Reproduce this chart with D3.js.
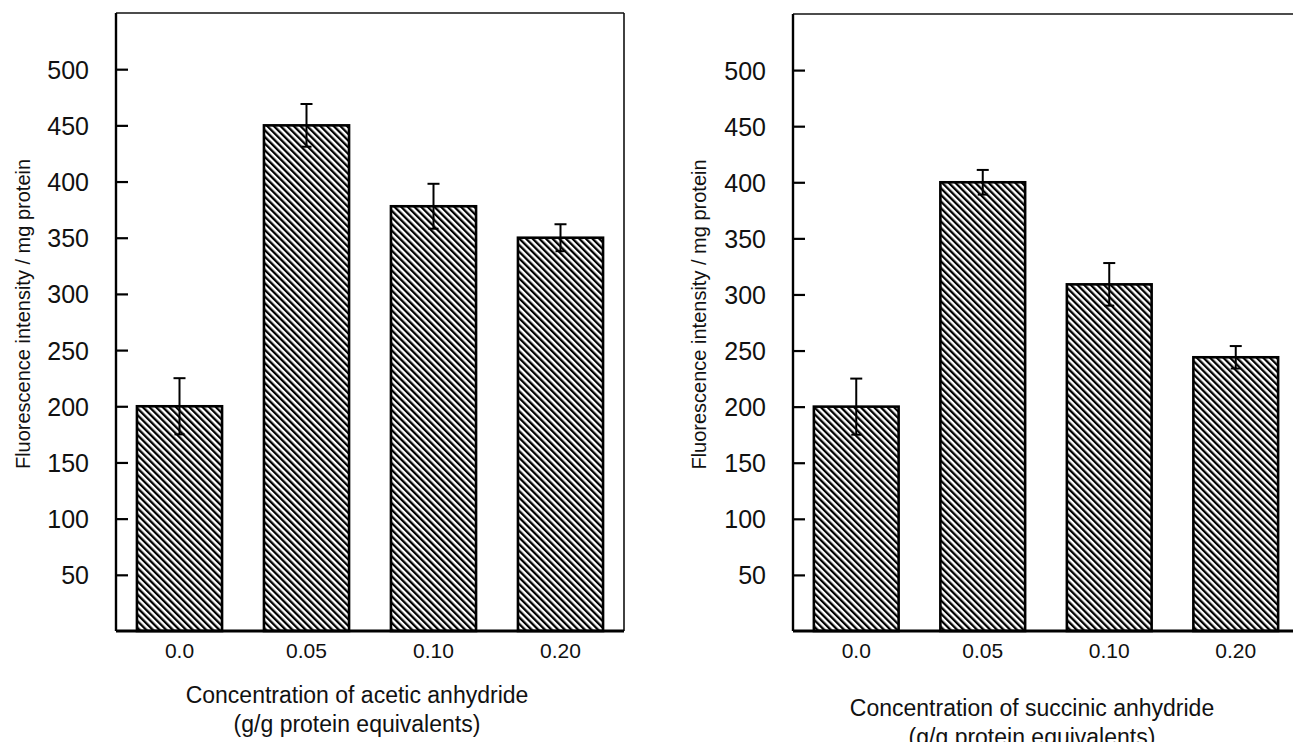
<!DOCTYPE html>
<html>
<head>
<meta charset="utf-8">
<script src="https://cdn.jsdelivr.net/npm/d3@7"></script>
<style>
    body { margin: 0; background: #ffffff; }
    svg text { font-family: "Liberation Sans", Arial, Helvetica, sans-serif; fill: #111111; }
</style>
</head>
<body>
<script>
// categories (x axis)
const categories = ['0.0', '0.05', '0.10', '0.20'];
// y axis ticks
const yTicks = [50, 100, 150, 200, 250, 300, 350, 400, 450, 500];

// acetic anhydride panel
const aceticMeans = [200, 450, 378, 350];
const aceticErrors = [25, 19, 20, 12];
// succinic anhydride panel
const succinicMeans = [200, 400, 309, 244];
const succinicErrors = [25, 11, 19, 10];

const yTitle = 'Fluorescence intensity / mg protein';
const xTitles = [
    ['Concentration of acetic anhydride', '(g/g protein equivalents)'],
    ['Concentration of succinic anhydride', '(g/g protein equivalents)']
];

/**
 * init svg and the hatch pattern
 */
const initSVGSettings = (renderParams) => {
    let {svgWidth, svgHeight} = renderParams;

    let svgContainer = d3.select('body')
        .append('svg')
        .attr('width', svgWidth)
        .attr('height', svgHeight);

    // diagonal hatch "\\\\"
    svgContainer.append('defs')
        .append('pattern')
        .attr('id', 'hatch')
        .attr('patternUnits', 'userSpaceOnUse')
        .attr('width', 4.7)
        .attr('height', 10)
        .attr('patternTransform', 'rotate(-45)')
        .append('rect')
        .attr('x', 0)
        .attr('y', 0)
        .attr('width', 2.3)
        .attr('height', 10)
        .style('fill', '#000000');

    return svgContainer;
};

/**
 * draw one panel
 * @param svg svg element
 * @param panel panel params (frame, data, titles)
 */
const renderPanel = (svg, panel) => {
    let {left, right, top, bottom, means, errors, titles, titleX, titleY, yLabelX} = panel;
    let data = categories.map((c, i) => ({cat: c, value: means[i], err: errors[i]}));

    let x = d3.scaleBand()
        .domain(categories)
        .range([left, right])
        .paddingInner(0.33)
        .paddingOuter(0.165);
    let y = d3.scaleLinear()
        .domain([0, 550])
        .range([bottom, top]);

    let g = svg.append('g');

    // frame: thin top / right
    g.append('line')
        .attr('x1', left).attr('x2', right)
        .attr('y1', top).attr('y2', top)
        .attr('stroke', '#111').attr('stroke-width', 1.6);
    g.append('line')
        .attr('x1', right).attr('x2', right)
        .attr('y1', top).attr('y2', bottom)
        .attr('stroke', '#111').attr('stroke-width', 1.6);

    // bars
    g.append('g')
        .selectAll('rect')
        .data(data)
        .enter()
        .append('rect')
        .attr('x', d => x(d.cat))
        .attr('y', d => y(d.value))
        .attr('width', x.bandwidth())
        .attr('height', d => y(0) - y(d.value))
        .style('fill', 'url(#hatch)')
        .attr('stroke', '#000')
        .attr('stroke-width', 2.6);

    // error bars
    let errG = g.append('g')
        .selectAll('g')
        .data(data)
        .enter()
        .append('g')
        .attr('transform', d => `translate(${x(d.cat) + x.bandwidth() / 2},0)`)
        .attr('stroke', '#000')
        .attr('stroke-width', 2);
    errG.append('line')
        .attr('y1', d => y(d.value + d.err))
        .attr('y2', d => y(d.value - d.err));
    errG.append('line')
        .attr('x1', -6).attr('x2', 6)
        .attr('y1', d => y(d.value + d.err))
        .attr('y2', d => y(d.value + d.err));
    errG.append('line')
        .attr('x1', -5).attr('x2', 5)
        .attr('y1', d => y(d.value - d.err))
        .attr('y2', d => y(d.value - d.err));

    // y axis, ticks pointing inward
    let yAxis = d3.axisLeft(y)
        .tickValues(yTicks)
        .tickSize(-12)
        .tickPadding(27)
        .tickFormat(d3.format('d'));
    let yAxisG = g.append('g')
        .attr('transform', `translate(${left},0)`)
        .call(yAxis);
    yAxisG.select('.domain')
        .attr('d', `M0,${top}V${bottom}`)
        .attr('stroke', '#000')
        .attr('stroke-width', 2.4);
    yAxisG.selectAll('.tick line')
        .attr('stroke', '#000')
        .attr('stroke-width', 2.2);
    yAxisG.selectAll('.tick text')
        .style('font-size', '25px')
        .attr('dy', '0.36em');

    // x axis, labels only
    let xAxis = d3.axisBottom(x)
        .tickSize(0)
        .tickPadding(12);
    let xAxisG = g.append('g')
        .attr('transform', `translate(0,${bottom})`)
        .call(xAxis);
    xAxisG.select('.domain')
        .attr('d', `M${left},0H${right}`)
        .attr('stroke', '#000')
        .attr('stroke-width', 2.8);
    xAxisG.selectAll('.tick text')
        .style('font-size', '21px')
        .attr('dy', '0.72em');

    // x title, two lines
    g.append('text')
        .attr('x', titleX)
        .attr('y', titleY)
        .attr('text-anchor', 'middle')
        .style('font-size', '23px')
        .selectAll('tspan')
        .data(titles)
        .enter()
        .append('tspan')
        .attr('x', titleX)
        .attr('dy', (d, i) => i === 0 ? 0 : 29)
        .text(d => d);

    // y title
    g.append('text')
        .attr('transform', `translate(${yLabelX},${(top + bottom) / 2 - 8}) rotate(-90)`)
        .attr('text-anchor', 'middle')
        .style('font-size', '20px')
        .text(yTitle);
};

let renderParams = {
    svgWidth: 1293,
    svgHeight: 742
};
let svg = initSVGSettings(renderParams);

renderPanel(svg, {
    left: 116, right: 624, top: 13, bottom: 631,
    means: aceticMeans, errors: aceticErrors,
    titles: xTitles[0], titleX: 357, titleY: 703, yLabelX: 30
});
renderPanel(svg, {
    left: 793, right: 1299, top: 14, bottom: 631,
    means: succinicMeans, errors: succinicErrors,
    titles: xTitles[1], titleX: 1032, titleY: 716, yLabelX: 706
});
</script>
</body>
</html>
